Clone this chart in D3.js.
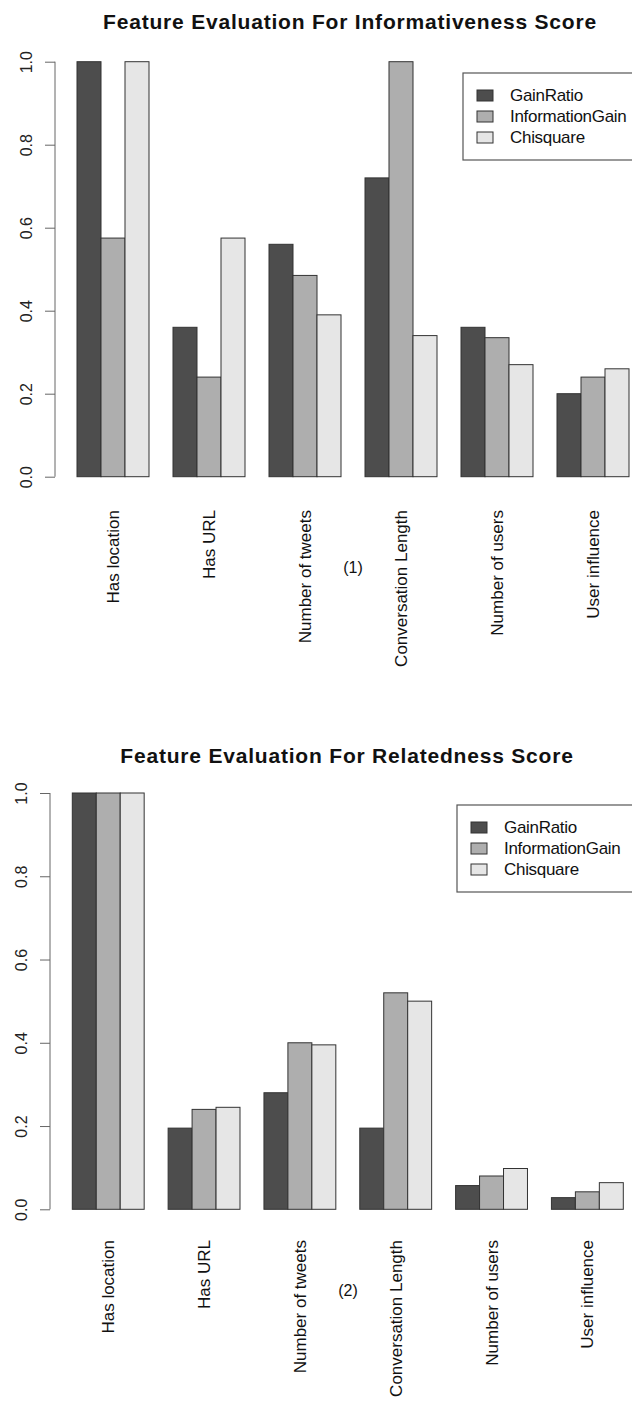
<!DOCTYPE html>
<html>
<head>
<meta charset="utf-8">
<script src="https://cdn.jsdelivr.net/npm/d3@7"></script>
<style>
  body { margin: 0; background: #fff; }
  svg { display: block; font-family: "Liberation Sans", Arial, Helvetica, sans-serif; }
</style>
</head>
<body>
<svg id="chart" width="632" height="1404"></svg>
<script>
const categories = ["Has location", "Has URL", "Number of tweets", "Conversation Length", "Number of users", "User influence"]
const series = ["GainRatio", "InformationGain", "Chisquare"]
const colors = ["#4d4d4d", "#aeaeae", "#e6e6e6"]
const yTicks = [0, 0.2, 0.4, 0.6, 0.8, 1.0]

// (1) informativeness
const infGainRatio = [1.0, 0.36, 0.56, 0.72, 0.36, 0.20]
const infInfoGain  = [0.575, 0.24, 0.485, 1.0, 0.335, 0.24]
const infChi       = [1.0, 0.575, 0.39, 0.34, 0.27, 0.26]

// (2) relatedness
const relGainRatio = [1.0, 0.195, 0.28, 0.195, 0.057, 0.028]
const relInfoGain  = [1.0, 0.24, 0.40, 0.52, 0.08, 0.042]
const relChi       = [1.0, 0.245, 0.395, 0.50, 0.098, 0.064]

const svg = d3.select("#chart")

function rows(a, b, c){
	return categories.map( (name, i) => ({ name, values: [a[i], b[i], c[i]] }) )
}

function drawChart(cfg){
	const g = svg.append("g")
	const data = rows(...cfg.values)

	const x = d3.scaleBand().domain(categories).range(cfg.xRange).paddingInner(0.25).paddingOuter(0)
	const xs = d3.scaleBand().domain(series).range([0, x.bandwidth()])
	const y = d3.scaleLinear().domain([0, 1]).range([cfg.y0, cfg.y1])

	g.append("text")
		.attr("x", cfg.titleX).attr("y", cfg.titleY)
		.attr("text-anchor", "middle")
		.style("font-size", "21px").style("font-weight", "bold")
		.style("letter-spacing", "0.8px").attr("fill", "#111")
		.text(cfg.title)

	// y axis, R style
	const yAxis = d3.axisLeft(y).tickValues(yTicks).tickSize(10).tickFormat(d3.format(".1f"))
	const ax = g.append("g").attr("transform", `translate(${cfg.axisX},0)`).call(yAxis)
	ax.select(".domain").attr("stroke", "#666").attr("d", `M0,${y(0)}V${y(1)}`)
	ax.selectAll(".tick line").attr("stroke", "#666")
	ax.selectAll(".tick text")
		.attr("x", null).attr("dy", null)
		.attr("text-anchor", "middle")
		.attr("transform", "translate(-23,0) rotate(-90)")
		.style("font-size", "16px").attr("fill", "#222")

	const grp = g.selectAll(".grp")
		.data(data)
		.enter().append("g")
		.attr("transform", d => `translate(${x(d.name)},0)`)

	grp.selectAll("rect")
		.data(d => d.values.map( (v, i) => ({ key: series[i], v, i }) ))
		.enter().append("rect")
		.attr("x", d => xs(d.key))
		.attr("y", d => y(d.v))
		.attr("width", xs.bandwidth())
		.attr("height", d => y(0) - y(d.v))
		.attr("fill", d => colors[d.i])
		.attr("stroke", "#333")
		.attr("stroke-width", 1)

	// category labels, rotated
	grp.append("text")
		.attr("transform", d => `translate(${x.bandwidth() / 2 + 6},${cfg.labelY}) rotate(-90)`)
		.attr("text-anchor", "end")
		.style("font-size", "17px").attr("fill", "#111")
		.text(d => d.name)

	g.append("text")
		.attr("x", cfg.subX).attr("y", cfg.subY)
		.attr("text-anchor", "middle")
		.style("font-size", "16px").attr("fill", "#111")
		.text(cfg.sub)

	// legend
	const lg = g.append("g").attr("transform", `translate(${cfg.legX},${cfg.legY})`)
	lg.append("rect")
		.attr("width", 200).attr("height", 87)
		.attr("fill", "#fff").attr("stroke", "#555").attr("stroke-width", 1.2)
	const item = lg.selectAll(".item")
		.data(series)
		.enter().append("g")
		.attr("transform", (d, i) => `translate(0,${22 + i * 21})`)
	item.append("rect")
		.attr("x", 14).attr("y", -5).attr("width", 16).attr("height", 11)
		.attr("fill", (d, i) => colors[i]).attr("stroke", "#333")
	item.append("text")
		.attr("x", 47).attr("y", 6)
		.style("font-size", "17px").style("letter-spacing", "-0.3px").attr("fill", "#111")
		.text(d => d)
}

drawChart({
	title: "Feature Evaluation For Informativeness Score",
	titleX: 350, titleY: 29,
	values: [infGainRatio, infInfoGain, infChi],
	xRange: [77, 629],
	y0: 476.7, y1: 61.7,
	axisX: 55,
	labelY: 510,
	sub: "(1)", subX: 353, subY: 573,
	legX: 463, legY: 73
})

drawChart({
	title: "Feature Evaluation For Relatedness Score",
	titleX: 347, titleY: 763,
	values: [relGainRatio, relInfoGain, relChi],
	xRange: [72.3, 623.3],
	y0: 1209.3, y1: 793,
	axisX: 50,
	labelY: 1240,
	sub: "(2)", subX: 348, subY: 1296,
	legX: 457, legY: 805
})
</script>
</body>
</html>
